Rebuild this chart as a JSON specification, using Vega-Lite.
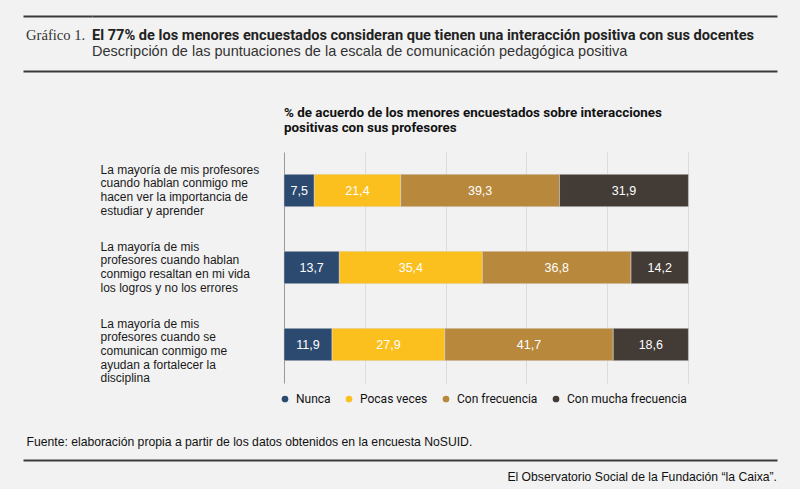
{
  "$schema": "https://vega.github.io/schema/vega-lite/v6.json",
  "background": "#f2f2f2",
  "padding": {"left": 23, "top": 16, "right": 23, "bottom": 5},
  "config": {
    "view": {"stroke": null},
    "font": "Liberation Sans",
    "locale": {"number": {"decimal": ",", "thousands": ".", "grouping": [3], "currency": ["", " €"]}}
  },
  "vconcat": [
    {
      "hconcat": [
        {
          "width": 69,
          "height": 1,
          "data": {"values": []},
          "mark": "point",
          "encoding": {
            "x": {"field": "v", "type": "quantitative", "scale": {"domain": [0, 1]},
              "axis": {"orient": "top", "domain": true, "domainColor": "#3a3a3a", "domainWidth": 2, "ticks": false, "labels": false, "grid": false, "title": null}}
          },
          "title": {"text": "Gráfico 1.", "subtitle": " ", "orient": "bottom", "anchor": "start", "offset": 11, "dx": 3,
            "font": "Liberation Serif", "fontSize": 14.6, "fontWeight": "normal", "color": "#333",
            "subtitleFontSize": 14.5, "subtitlePadding": 2}
        },
        {
          "width": 685,
          "height": 1,
          "data": {"values": []},
          "mark": "point",
          "encoding": {
            "x": {"field": "v", "type": "quantitative", "scale": {"domain": [0, 1]},
              "axis": {"orient": "top", "domain": true, "domainColor": "#3a3a3a", "domainWidth": 2, "ticks": false, "labels": false, "grid": false, "title": null}}
          },
          "title": {"text": "El 77% de los menores encuestados consideran que tienen una interacción positiva con sus  docentes",
            "subtitle": "Descripción de las puntuaciones de la escala de comunicación pedagógica positiva",
            "orient": "bottom", "anchor": "start", "offset": 11,
            "font": "Roboto", "fontSize": 14.6, "fontWeight": "bold", "color": "#222",
            "subtitleFont": "Liberation Sans", "subtitleFontSize": 14.5, "subtitleColor": "#333", "subtitlePadding": 2}
        }
      ],
      "spacing": 0
    },
    {
      "width": 754,
      "height": 22,
      "data": {"values": []},
      "mark": "point",
      "encoding": {
        "x": {"field": "v", "type": "quantitative", "scale": {"domain": [0, 1]},
          "axis": {"orient": "top", "domain": true, "domainColor": "#3a3a3a", "domainWidth": 2, "ticks": false, "labels": false, "grid": false, "title": null}}
      }
    },
    {
      "width": 754,
      "height": 231,
      "title": {
        "text": ["% de acuerdo de los menores encuestados sobre interacciones", "positivas con sus profesores"],
        "anchor": "start", "dx": 261, "offset": 18,
        "font": "Roboto", "fontSize": 13.4, "fontWeight": "bold", "color": "#111", "lineHeight": 15
      },
      "data": {
        "values": [
          {"item": "La mayoría de mis profesores|cuando hablan conmigo me|hacen ver la importancia de|estudiar y aprender", "respuesta": "Nunca", "orden": 1, "pct": 7.5},
          {"item": "La mayoría de mis profesores|cuando hablan conmigo me|hacen ver la importancia de|estudiar y aprender", "respuesta": "Pocas veces", "orden": 2, "pct": 21.4},
          {"item": "La mayoría de mis profesores|cuando hablan conmigo me|hacen ver la importancia de|estudiar y aprender", "respuesta": "Con frecuencia", "orden": 3, "pct": 39.3},
          {"item": "La mayoría de mis profesores|cuando hablan conmigo me|hacen ver la importancia de|estudiar y aprender", "respuesta": "Con mucha frecuencia", "orden": 4, "pct": 31.9},
          {"item": "La mayoría de mis|profesores cuando hablan|conmigo resaltan en mi vida|los logros y no los errores", "respuesta": "Nunca", "orden": 1, "pct": 13.7},
          {"item": "La mayoría de mis|profesores cuando hablan|conmigo resaltan en mi vida|los logros y no los errores", "respuesta": "Pocas veces", "orden": 2, "pct": 35.4},
          {"item": "La mayoría de mis|profesores cuando hablan|conmigo resaltan en mi vida|los logros y no los errores", "respuesta": "Con frecuencia", "orden": 3, "pct": 36.8},
          {"item": "La mayoría de mis|profesores cuando hablan|conmigo resaltan en mi vida|los logros y no los errores", "respuesta": "Con mucha frecuencia", "orden": 4, "pct": 14.2},
          {"item": "La mayoría de mis|profesores cuando se|comunican conmigo me|ayudan a fortalecer la|disciplina", "respuesta": "Nunca", "orden": 1, "pct": 11.9},
          {"item": "La mayoría de mis|profesores cuando se|comunican conmigo me|ayudan a fortalecer la|disciplina", "respuesta": "Pocas veces", "orden": 2, "pct": 27.9},
          {"item": "La mayoría de mis|profesores cuando se|comunican conmigo me|ayudan a fortalecer la|disciplina", "respuesta": "Con frecuencia", "orden": 3, "pct": 41.7},
          {"item": "La mayoría de mis|profesores cuando se|comunican conmigo me|ayudan a fortalecer la|disciplina", "respuesta": "Con mucha frecuencia", "orden": 4, "pct": 18.6}
        ]
      },
      "encoding": {
        "y": {
          "field": "item", "type": "nominal", "sort": null,
          "scale": {"paddingInner": 0.58, "paddingOuter": 0.29},
          "axis": {
            "title": null, "domain": false, "ticks": false,
            "labelAlign": "left", "labelBaseline": "middle", "labelPadding": -77, "labelOffset": -21,
            "labelExpr": "split(datum.label, '|')", "labelLineHeight": 13.7,
            "labelFontSize": 12, "labelColor": "#1a1a1a", "labelLimit": 0
          }
        },
        "x": {
          "field": "pct", "type": "quantitative", "stack": "zero",
          "scale": {"domain": [-64.6, 122.03], "nice": false, "zero": false},
          "axis": {
            "values": [0, 20, 40, 60, 80, 100], "grid": true,
            "gridColor": {"condition": {"test": "datum.value === 0", "value": "#9a9a9a"}, "value": "#dcdcdc"},
            "gridWidth": 1, "domain": false, "ticks": false, "labels": false,
            "title": "Fuente: elaboración propia a partir de los datos obtenidos en la encuesta NoSUID.",
            "titleAnchor": "start", "titleAlign": "left", "titlePadding": 52, "titleX": 3,
            "titleFont": "Liberation Sans", "titleFontSize": 12.2, "titleFontWeight": "normal", "titleColor": "#111"
          }
        },
        "order": {"field": "orden", "type": "quantitative"}
      },
      "layer": [
        {
          "mark": {"type": "bar", "stroke": "#d8d8d8", "strokeWidth": 0.5},
          "encoding": {
            "color": {
              "field": "respuesta", "type": "nominal",
              "sort": ["Nunca", "Pocas veces", "Con frecuencia", "Con mucha frecuencia"],
              "scale": {"domain": ["Nunca", "Pocas veces", "Con frecuencia", "Con mucha frecuencia"],
                "range": ["#2c4a70", "#fcc01e", "#b8883c", "#433b35"]},
              "legend": {
                "title": null, "orient": "none", "direction": "horizontal",
                "legendX": 256, "legendY": 377,
                "symbolType": "circle", "symbolSize": 45, "symbolStrokeWidth": 0,
                "labelFont": "Roboto", "labelFontSize": 12, "labelColor": "#111", "labelOffset": 5, "columnPadding": 12
              }
            }
          }
        },
        {
          "mark": {"type": "text", "color": "white", "fontSize": 12.5, "baseline": "middle", "align": "center"},
          "encoding": {
            "x": {"field": "pct", "type": "quantitative", "stack": "zero", "bandPosition": 0.5},
            "text": {"field": "pct", "type": "quantitative", "format": ".1f"}
          }
        }
      ]
    },
    {
      "width": 754,
      "height": 1,
      "data": {"values": []},
      "mark": "point",
      "encoding": {
        "x": {"field": "v", "type": "quantitative", "scale": {"domain": [0, 1]},
          "axis": {"orient": "top", "domain": true, "domainColor": "#3a3a3a", "domainWidth": 2, "ticks": false, "labels": false, "grid": false, "title": null}}
      },
      "title": {"text": "El Observatorio Social de la Fundación “la Caixa”.", "orient": "bottom", "anchor": "end", "offset": 10,
        "font": "Liberation Sans", "fontSize": 12.2, "fontWeight": "normal", "color": "#111"}
    }
  ],
  "spacing": 12
}
